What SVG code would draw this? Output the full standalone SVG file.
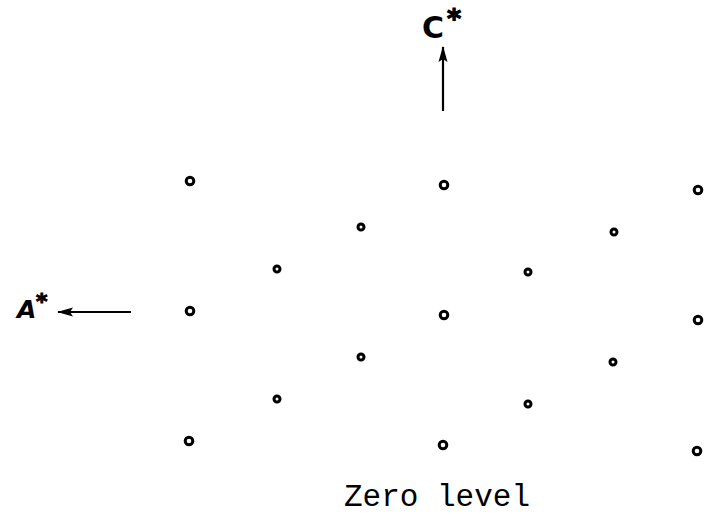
<svg xmlns="http://www.w3.org/2000/svg" width="711" height="520" viewBox="0 0 711 520">
<style>
.big{fill:none;stroke:#000;stroke-width:3}
.sm{fill:none;stroke:#000;stroke-width:3}
.ax{stroke:#000;stroke-width:2.2;fill:none}
.lbl{font-family:"DejaVu Sans","Liberation Sans",sans-serif;font-weight:bold;fill:#000}
.cap{font-family:"Liberation Mono","DejaVu Sans Mono",monospace;font-size:31px;fill:#000}
</style>
<defs>
<marker id="ah" viewBox="0 0 16 10" refX="15" refY="5" markerWidth="16" markerHeight="10" orient="auto" markerUnits="userSpaceOnUse">
<path d="M0,0.5 L16,5 L0,9.5 L3,5 Z" fill="#000"/>
</marker>
</defs>
<rect width="711" height="520" fill="#fff"/>
<g id="connectors">
<line class="ax" x1="443" y1="111" x2="443" y2="47" marker-end="url(#ah)"/>
<line class="ax" x1="131" y1="312" x2="58" y2="312" marker-end="url(#ah)"/>
</g>
<g id="label-c"><text class="lbl" x="422" y="38" font-size="30">C</text><text class="lbl" x="447" y="28" font-size="27" stroke="#000" stroke-width="1.2">*</text></g>
<g id="label-a"><text class="lbl" x="17" y="318" font-size="25" font-style="italic">A</text><text class="lbl" x="36" y="309" font-size="22" stroke="#000" stroke-width="1">*</text></g>
<g id="points">
<circle class="big" cx="190" cy="181" r="3.8"/>
<circle class="big" cx="444" cy="185" r="3.8"/>
<circle class="big" cx="698" cy="190" r="3.8"/>
<circle class="big" cx="190" cy="311" r="3.8"/>
<circle class="big" cx="444" cy="315" r="3.8"/>
<circle class="big" cx="698" cy="320" r="3.8"/>
<circle class="big" cx="189" cy="441" r="3.8"/>
<circle class="big" cx="443" cy="445" r="3.8"/>
<circle class="big" cx="697" cy="451" r="3.8"/>
<circle class="sm" cx="361" cy="227" r="3"/>
<circle class="sm" cx="614" cy="232" r="3"/>
<circle class="sm" cx="277" cy="269" r="3"/>
<circle class="sm" cx="528" cy="272" r="3"/>
<circle class="sm" cx="361" cy="357" r="3"/>
<circle class="sm" cx="613" cy="362" r="3"/>
<circle class="sm" cx="277" cy="399" r="3"/>
<circle class="sm" cx="528" cy="404" r="3"/>
</g>
<g id="caption"><text class="cap" x="344" y="506">Zero level</text></g>
</svg>
